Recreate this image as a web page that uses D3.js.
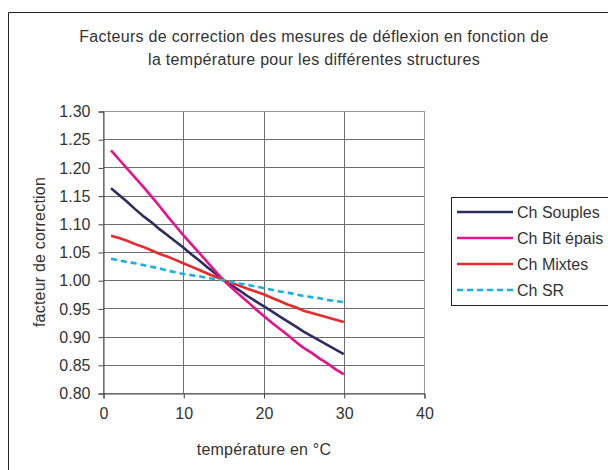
<!DOCTYPE html>
<html><head><meta charset="utf-8">
<script src="https://cdn.jsdelivr.net/npm/d3@7"></script>
<style>html,body{margin:0;padding:0;background:#fff;}svg{display:block;font-family:"Liberation Sans",Arial,sans-serif;}</style>
</head><body>
<script>
const temps = d3.range(1, 31);
const seriesNames = ["Ch Souples", "Ch Bit épais", "Ch Mixtes", "Ch SR"];
const souples = [1.163,1.151,1.139,1.126,1.114,1.103,1.091,1.080,1.069,1.058,1.046,1.035,1.023,1.012,1.000,0.991,0.982,0.972,0.963,0.954,0.945,0.936,0.927,0.918,0.909,0.901,0.893,0.885,0.877,0.869];
const bitEpais = [1.230,1.214,1.198,1.182,1.166,1.149,1.132,1.114,1.097,1.080,1.064,1.048,1.032,1.016,1.000,0.987,0.974,0.962,0.949,0.937,0.925,0.914,0.903,0.891,0.880,0.871,0.861,0.852,0.842,0.833];
const mixtes = [1.079,1.075,1.070,1.064,1.059,1.053,1.047,1.042,1.036,1.030,1.024,1.018,1.012,1.006,1.000,0.995,0.990,0.985,0.980,0.975,0.969,0.963,0.957,0.952,0.946,0.942,0.938,0.934,0.930,0.926];
const sr = [1.038,1.035,1.032,1.030,1.027,1.024,1.021,1.017,1.014,1.011,1.009,1.007,1.004,1.002,1.000,0.997,0.994,0.992,0.989,0.986,0.983,0.980,0.978,0.975,0.972,0.970,0.968,0.965,0.963,0.961];
const xTicks = [0, 10, 20, 30, 40];
const yTicks = [0.80,0.85,0.90,0.95,1.00,1.05,1.10,1.15,1.20,1.25,1.30];
const titleLines = ["Facteurs de correction des mesures de déflexion en fonction de", "la température pour les différentes structures"];
const xTitle = "température en °C";
const yTitle = "facteur de correction";

const allSeries = [souples, bitEpais, mixtes, sr];
const colors = ["#2e2d62", "#e8108c", "#e82a2a", "#18aee8"];
const dashes = [null, null, null, "6,4"];

const W = 608, H = 470;
const FS = 16;
const svg = d3.select("body").append("svg").attr("width", W).attr("height", H);

// outer chart border
svg.append("path").attr("d", "M8.5,470 V12.5 H608").attr("fill","none").attr("stroke","#222").attr("stroke-width",1);

const L = 103, R = 424, T = 111, B = 393;
const x = d3.scaleLinear().domain([0, 40]).range([L, R]);
const y = d3.scaleLinear().domain([0.80, 1.30]).range([B, T]);

// gridlines
const g = svg.append("g");
g.selectAll(".hg").data(yTicks).join("line")
  .attr("x1", L).attr("x2", R)
  .attr("y1", d => Math.round(y(d)) + 0.5).attr("y2", d => Math.round(y(d)) + 0.5)
  .attr("stroke", "#6e6e6e").attr("stroke-width", 1);
g.selectAll(".vg").data(xTicks).join("line")
  .attr("y1", T).attr("y2", B)
  .attr("x1", d => Math.round(x(d)) + 0.5).attr("x2", d => Math.round(x(d)) + 0.5)
  .attr("stroke", "#6e6e6e").attr("stroke-width", 1);
// plot border
svg.append("rect").attr("x", L + 0.5).attr("y", T + 0.5).attr("width", R - L).attr("height", B - T)
  .attr("fill", "none").attr("stroke", "#a09898").attr("stroke-width", 1);

// axes
const yAxis = d3.axisLeft(y).tickValues(yTicks).tickFormat(d3.format(".2f")).tickSize(5).tickPadding(8);
const xAxis = d3.axisBottom(x).tickValues(xTicks).tickFormat(d3.format("d")).tickSize(5).tickPadding(9);
const ya = svg.append("g").attr("transform", `translate(${L + 0.5},0.5)`).call(yAxis);
const xa = svg.append("g").attr("transform", `translate(0.5,${B + 0.5})`).call(xAxis);
[ya, xa].forEach(a => {
  a.select(".domain").attr("stroke", "#444");
  a.selectAll(".tick line").attr("stroke", "#444");
  a.selectAll("text").attr("font-size", FS).attr("fill", "#333").attr("font-family", "Liberation Sans, Arial, sans-serif");
});

// lines
const line = d3.line().x((d, i) => x(temps[i])).y(d => y(d));
allSeries.forEach((s, k) => {
  svg.append("path").datum(s).attr("d", line).attr("fill", "none")
    .attr("stroke", colors[k]).attr("stroke-width", 2.6)
    .attr("stroke-dasharray", dashes[k]);
});

// title
titleLines.forEach((t, i) => {
  svg.append("text").attr("x", 314).attr("y", 42 + i * 23).attr("text-anchor", "middle")
    .attr("font-size", FS).attr("letter-spacing", 0.3).attr("fill", "#333").text(t);
});
// axis titles
svg.append("text").attr("x", 264).attr("y", 455).attr("text-anchor", "middle")
  .attr("font-size", FS).attr("letter-spacing", 0.2).attr("fill", "#333").text(xTitle);
svg.append("text").attr("transform", "translate(45,252) rotate(-90)").attr("text-anchor", "middle")
  .attr("font-size", FS).attr("letter-spacing", 0.2).attr("fill", "#333").text(yTitle);

// legend
const lg = svg.append("g");
lg.append("rect").attr("x", 451.5).attr("y", 197.5).attr("width", 170).attr("height", 108)
  .attr("fill", "#fff").attr("stroke", "#222").attr("stroke-width", 1);
seriesNames.forEach((n, k) => {
  const yy = 212 + k * 26;
  lg.append("line").attr("x1", 457).attr("x2", 513).attr("y1", yy).attr("y2", yy)
    .attr("stroke", colors[k]).attr("stroke-width", 2.6).attr("stroke-dasharray", dashes[k]);
  lg.append("text").attr("x", 517).attr("y", yy + 6).attr("font-size", FS).attr("fill", "#333").text(n);
});
</script>
</body></html>
